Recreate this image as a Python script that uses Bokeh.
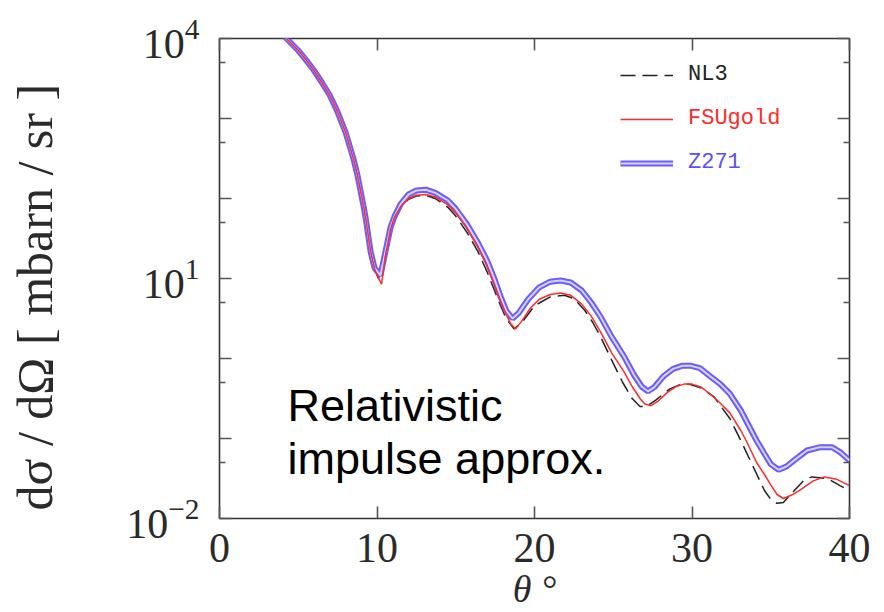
import numpy as np
from bokeh.plotting import figure
from bokeh.models import (Range1d, FixedTicker, LinearAxis, LogAxis, Legend,
                          LegendItem, Label)
from bokeh.embed import file_html
from bokeh.resources import INLINE

# ---------------- data (y given as log10 of dσ/dΩ) ----------------
theta_nl3 = [4.0, 4.25, 5.0, 5.5, 6.0, 6.5, 7.0, 7.5, 8.0, 8.5, 8.75, 9.0, 9.15, 9.3,
             9.6, 9.85, 10.1, 10.4, 10.86, 11.1, 11.5, 12.0, 12.5, 13.1,
             13.7, 14.5, 15.0, 15.7, 16.4, 17.0, 17.5, 17.85, 18.2, 18.7,
             19.2, 20.0, 21.0, 21.9, 22.5, 23.2, 23.7, 24.2, 24.9, 25.6,
             26.2, 26.7, 27.1, 27.7, 28.6, 29.2, 29.8, 30.6, 31.4, 32.4,
             33.1, 33.9, 34.6, 35.0, 35.4, 35.8, 36.5, 37.1, 37.6, 38.6,
             39.4, 40.0]
log10_nl3 = [4.06, 4.0, 3.85, 3.73, 3.6, 3.45, 3.29, 3.08, 2.83, 2.5, 2.3, 2.04, 1.88, 1.71,
             1.3, 1.1, 1.0, 1.2, 1.6, 1.75, 1.89, 1.99, 2.03, 2.04,
             2.0, 1.89, 1.78, 1.58, 1.34, 1.08, 0.83, 0.66, 0.5, 0.37,
             0.45, 0.66, 0.77, 0.79, 0.75, 0.6, 0.45, 0.27, -0.02, -0.3,
             -0.5, -0.6, -0.6, -0.52, -0.38, -0.33, -0.32, -0.37, -0.48, -0.75,
             -1.025, -1.36, -1.65, -1.76, -1.81, -1.8, -1.65, -1.525, -1.48, -1.5,
             -1.59, -1.65]

theta_fsugold = [4.0, 4.25, 5.0, 5.5, 6.0, 6.5, 7.0, 7.5, 8.0, 8.5, 8.75, 9.0, 9.15, 9.3,
                 9.6, 9.85, 10.05, 10.29, 10.5, 10.86, 11.1, 11.5, 12.0, 12.5,
                 13.1, 13.7, 14.5, 15.0, 15.7, 16.4, 17.0, 17.5, 17.85, 18.2,
                 18.5, 18.8, 19.2, 19.7, 20.3, 21.0, 21.65, 22.3, 23.0, 23.6,
                 24.2, 24.9, 25.7, 26.2, 26.7, 27.0, 27.4, 27.8, 28.4, 29.0,
                 29.5, 30.0, 30.6, 31.2, 31.8, 32.4, 33.1, 33.5, 34.1, 34.6,
                 35.0, 35.4, 35.8, 36.3, 36.9, 37.7, 38.4, 39.2, 40.0]
log10_fsugold = [4.06, 4.0, 3.85, 3.73, 3.6, 3.45, 3.29, 3.08, 2.83, 2.5, 2.3, 2.05, 1.9, 1.73,
                 1.33, 1.12, 1.02, 0.93, 1.25, 1.62, 1.76, 1.9, 2.0, 2.04,
                 2.05, 2.02, 1.92, 1.82, 1.63, 1.4, 1.15, 0.9, 0.72, 0.55,
                 0.43, 0.37, 0.47, 0.62, 0.74, 0.8, 0.82, 0.79, 0.68, 0.53,
                 0.33, 0.07, -0.17, -0.35, -0.5, -0.57, -0.59, -0.54, -0.43, -0.35,
                 -0.32, -0.32, -0.36, -0.45, -0.56, -0.68, -0.9, -1.05, -1.3, -1.45,
                 -1.58, -1.7, -1.75, -1.71, -1.64, -1.53, -1.48, -1.51, -1.59]

theta_z271 = [4.0, 4.25, 5.0, 5.5, 6.0, 6.5, 7.0, 7.5, 8.0, 8.5, 8.75, 9.0, 9.15, 9.3,
              9.6, 9.85, 10.22, 10.5, 10.86, 11.1, 11.5, 12.0, 12.5, 13.1,
              13.7, 14.5, 15.0, 15.7, 16.4, 17.0, 17.5, 17.85, 18.2, 18.6,
              19.0, 19.6, 20.3, 21.0, 21.65, 22.3, 23.0, 23.6, 24.2, 24.9,
              25.7, 26.3, 26.8, 27.2, 27.6, 28.2, 28.8, 29.4, 29.9, 30.5,
              31.2, 31.8, 32.4, 33.1, 33.5, 34.1, 34.6, 35.0, 35.5, 36.0,
              36.5, 37.3, 38.1, 38.9, 39.4, 40.0]
log10_z271 = [4.06, 4.0, 3.85, 3.73, 3.6, 3.45, 3.29, 3.08, 2.83, 2.5, 2.3, 2.05, 1.9, 1.73,
              1.33, 1.13, 1.04, 1.3, 1.64, 1.77, 1.93, 2.05, 2.1, 2.11,
              2.07, 1.975, 1.87, 1.68, 1.45, 1.22, 0.97, 0.77, 0.6, 0.5,
              0.57, 0.74, 0.89, 0.96, 0.975, 0.95, 0.85, 0.7, 0.52, 0.27,
              0.02, -0.2, -0.35, -0.41, -0.36, -0.22, -0.13, -0.09, -0.09, -0.12,
              -0.23, -0.32, -0.44, -0.65, -0.8, -1.025, -1.19, -1.32, -1.39, -1.35,
              -1.27, -1.15, -1.11, -1.11, -1.17, -1.275]

series_names = ["NL3", "FSUgold", "Z271"]
x_ticks = [0, 10, 20, 30, 40]
y_decades = [1e-2, 1e-1, 1.0, 10.0, 100.0, 1e3, 1e4]
y_minor = [5e-2, 0.5, 5.0, 50.0, 500.0, 5e3]
y_labeled = [1e-2, 10.0, 1e4]
x_label = "θ °"
y_label = "dσ / dΩ    [ mbarn / sr ]"
annotation_lines = ["Relativistic", "impulse approx."]

# ---------------- figure ----------------
SERIF = "Liberation Serif"
TEXT = "#2a2a2a"
p = figure(width=884, height=612, x_range=Range1d(0, 40), y_range=Range1d(1e-2, 1e4),
           y_axis_type="log", output_backend="svg", toolbar_location=None,
           min_border_left=219, min_border_right=35, min_border_top=38, min_border_bottom=93)
p.grid.visible = False
p.outline_line_color = "#333333"
p.outline_line_width = 1.6
p.background_fill_color = "white"
p.border_fill_color = "white"

def style_axis(ax):
    ax.axis_line_color = None
    ax.major_tick_in = 12
    ax.major_tick_out = 0
    ax.minor_tick_in = 6
    ax.minor_tick_out = 0
    ax.major_tick_line_color = "#555555"
    ax.minor_tick_line_color = "#555555"
    ax.major_tick_line_width = 1.6
    ax.minor_tick_line_width = 1.6
    ax.major_label_text_font = SERIF
    ax.major_label_text_color = TEXT
    ax.major_label_text_font_size = "42px"

xa = p.xaxis[0]
xa.ticker = FixedTicker(ticks=x_ticks, minor_ticks=[])
style_axis(xa)
xa.major_label_standoff = 15
xa.axis_label = x_label
xa.axis_label_text_font = SERIF
xa.axis_label_text_font_style = "italic"
xa.axis_label_text_font_size = "38px"
xa.axis_label_text_color = TEXT
xa.axis_label_standoff = 3

ya = p.yaxis[0]
ya.ticker = FixedTicker(ticks=y_decades, minor_ticks=y_minor)
style_axis(ya)
ya.major_label_standoff = 20
ya.major_label_overrides = {t: "" for t in y_decades if t not in y_labeled}
ya.axis_label = y_label
ya.axis_label_text_font = SERIF
ya.axis_label_text_font_style = "normal"
ya.axis_label_text_font_size = "50px"
ya.axis_label_text_color = TEXT
ya.axis_label_standoff = 60

top = LinearAxis(ticker=FixedTicker(ticks=x_ticks, minor_ticks=[]))
style_axis(top)
top.major_label_overrides = {t: "" for t in x_ticks}
top.major_label_standoff = 0
p.add_layout(top, "above")
right = LogAxis(ticker=FixedTicker(ticks=y_decades, minor_ticks=y_minor))
style_axis(right)
right.major_label_overrides = {t: "" for t in y_decades}
right.major_label_standoff = 0
p.add_layout(right, "right")

# ---------------- curves ----------------
nl3 = p.line(theta_nl3, 10 ** np.array(log10_nl3), line_color="#222222",
             line_width=1.5, line_dash="15 7")
z_outer = p.line(theta_z271, 10 ** np.array(log10_z271), line_color="#6a5cff", line_width=6)
z_inner = p.line(theta_z271, 10 ** np.array(log10_z271), line_color="#d6d2ff", line_width=2)
fsu = p.line(theta_fsugold, 10 ** np.array(log10_fsugold), line_color="#ff2a2a", line_width=1.5)

legend_renderers = [[nl3], [fsu], [z_outer, z_inner]]
legend_colors = ["#222222", "#ff2a2a", "#5a4cff"]
legend_y = [431, 387, 343]
for name, rends, col, ly in zip(series_names, legend_renderers, legend_colors, legend_y):
    lg = Legend(items=[LegendItem(label=name, renderers=rends)], location=(401, ly),
                glyph_width=53, glyph_height=20, label_height=20, label_standoff=15,
                padding=0, margin=0, spacing=0, border_line_color=None,
                background_fill_alpha=0, label_text_font="Liberation Mono",
                label_text_font_size="22px", label_text_color=col)
    p.add_layout(lg)

# ---------------- annotation ----------------
ann_y = [0.2586, 0.05623]
for txt, yy in zip(annotation_lines, ann_y):
    p.add_layout(Label(x=4.32, y=yy, text=txt, text_font="Liberation Sans",
                       text_font_size="45px", text_color="black",
                       text_baseline="alphabetic"))

open("out.html", "w").write(file_html(p, INLINE))
